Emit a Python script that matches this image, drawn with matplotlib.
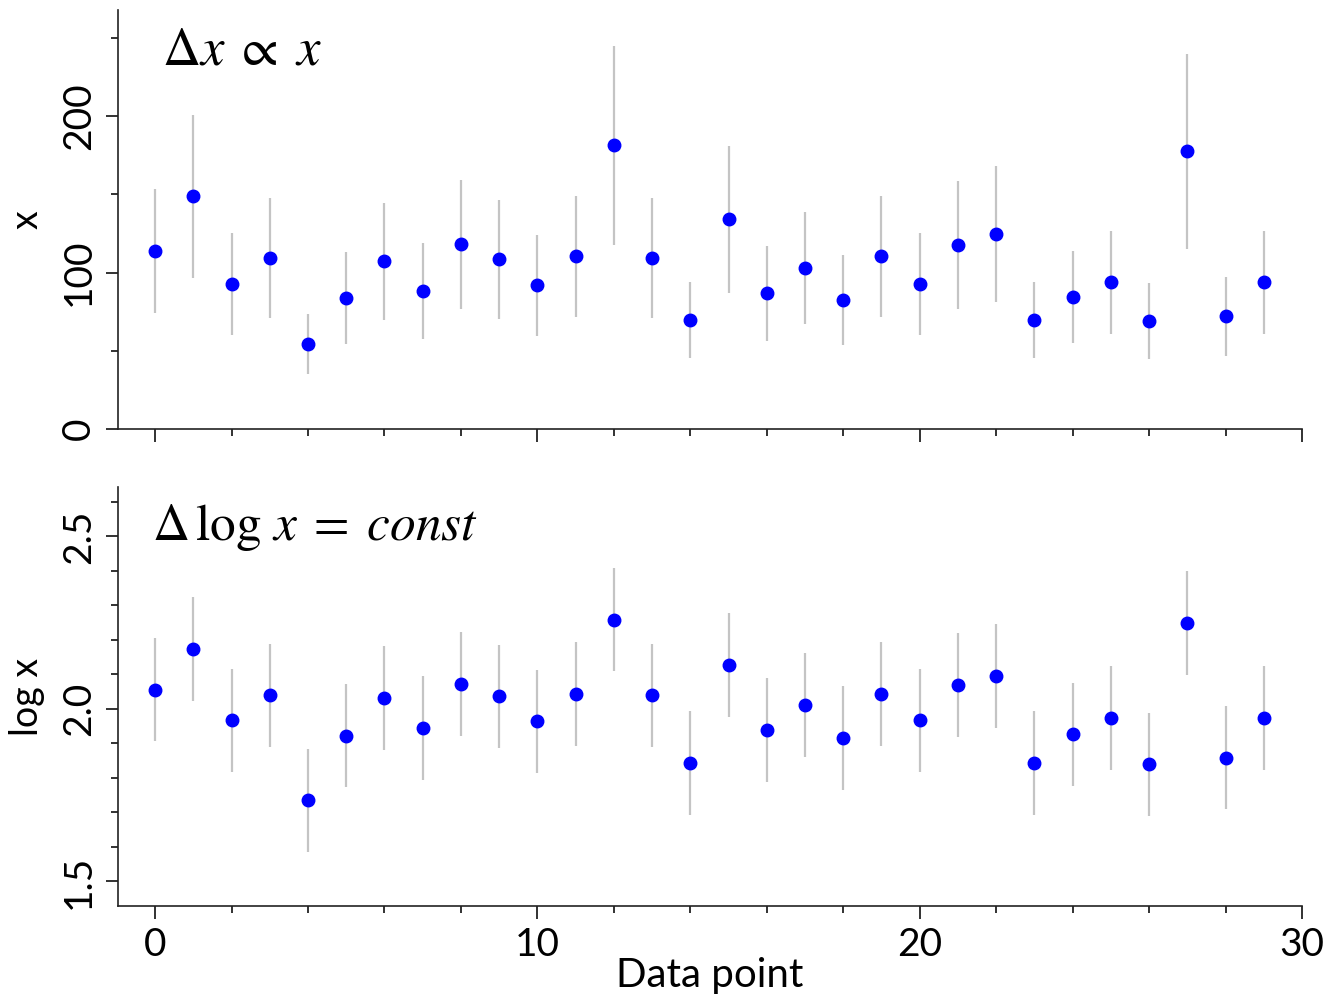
import numpy as np
import matplotlib
matplotlib.use("Agg")
import matplotlib.pyplot as plt
from matplotlib.ticker import MultipleLocator

plt.rcParams["font.family"] = ["Lato", "DejaVu Sans"]
plt.rcParams["mathtext.fontset"] = "stix"

# measurements and their log10 values
point = np.arange(30)
x_vals = [113.7, 148.9, 92.7, 109.3, 54.3, 83.7, 107.3, 88.2, 118.2, 108.6,
          92.0, 110.5, 181.5, 109.3, 69.6, 134.2, 86.9, 102.9, 82.4, 110.5,
          92.7, 117.6, 124.6, 69.6, 84.3, 93.9, 69.0, 177.6, 72.2, 93.9]
log_vals = [2.056, 2.173, 1.967, 2.039, 1.735, 1.923, 2.031, 1.945, 2.073, 2.036,
            1.964, 2.043, 2.259, 2.039, 1.843, 2.128, 1.939, 2.012, 1.916, 2.043,
            1.967, 2.070, 2.096, 1.843, 1.926, 1.973, 1.839, 2.249, 1.859, 1.973]
REL_ERR = 0.35
LOG_ERR = 0.15

x_arr = np.array(x_vals)
log_arr = np.array(log_vals)

fig = plt.figure(figsize=(13.29, 10), dpi=100)
ax1 = fig.add_axes([0.0888, 0.571, 0.8909, 0.419])
ax2 = fig.add_axes([0.0888, 0.094, 0.8909, 0.419])

err_kw = dict(fmt="o", color="#0000ff", ms=9, ecolor="#c4c4c4",
              elinewidth=1.6, capsize=0, zorder=3)

ax1.errorbar(point, x_arr, yerr=REL_ERR * x_arr, **err_kw)
ax2.errorbar(point, log_arr, yerr=LOG_ERR, **err_kw)

for ax in (ax1, ax2):
    ax.set_xlim(-0.97, 30)
    ax.spines["top"].set_visible(False)
    ax.spines["right"].set_visible(False)
    for s in ("left", "bottom"):
        ax.spines[s].set_linewidth(1.2)
        ax.spines[s].set_color("#222222")
    ax.xaxis.set_major_locator(MultipleLocator(10))
    ax.xaxis.set_minor_locator(MultipleLocator(2))
    ax.tick_params(which="major", length=9, width=1.3, color="#222222",
                   labelsize=28, pad=6)
    ax.tick_params(which="minor", length=5, width=1.3, color="#222222")
    ax.tick_params(axis="y", labelrotation=90)

ax1.set_ylim(0, 268)
ax1.yaxis.set_major_locator(MultipleLocator(100))
ax1.yaxis.set_minor_locator(MultipleLocator(50))
ax1.tick_params(axis="x", labelbottom=False)
ax1.set_ylabel("x", fontsize=27, labelpad=12)

ax2.set_ylim(1.429, 2.643)
ax2.yaxis.set_major_locator(MultipleLocator(0.5))
ax2.yaxis.set_minor_locator(MultipleLocator(0.1))
ax2.set_ylabel("log x", fontsize=27, labelpad=12)
ax2.set_xlabel("Data point", fontsize=29, labelpad=-4)

for ax in (ax1, ax2):
    for lab in ax.get_yticklabels():
        lab.set_va("center")

ax1.text(0.037, 0.869, r"$\Delta x \;\propto\; x$", transform=ax1.transAxes,
         fontsize=38, ha="left", va="baseline")
ax2.text(0.029, 0.873, r"$\Delta\,\log\, x \;=\; const$", transform=ax2.transAxes,
         fontsize=37, ha="left", va="baseline")

fig.savefig("out.png", dpi=100)
